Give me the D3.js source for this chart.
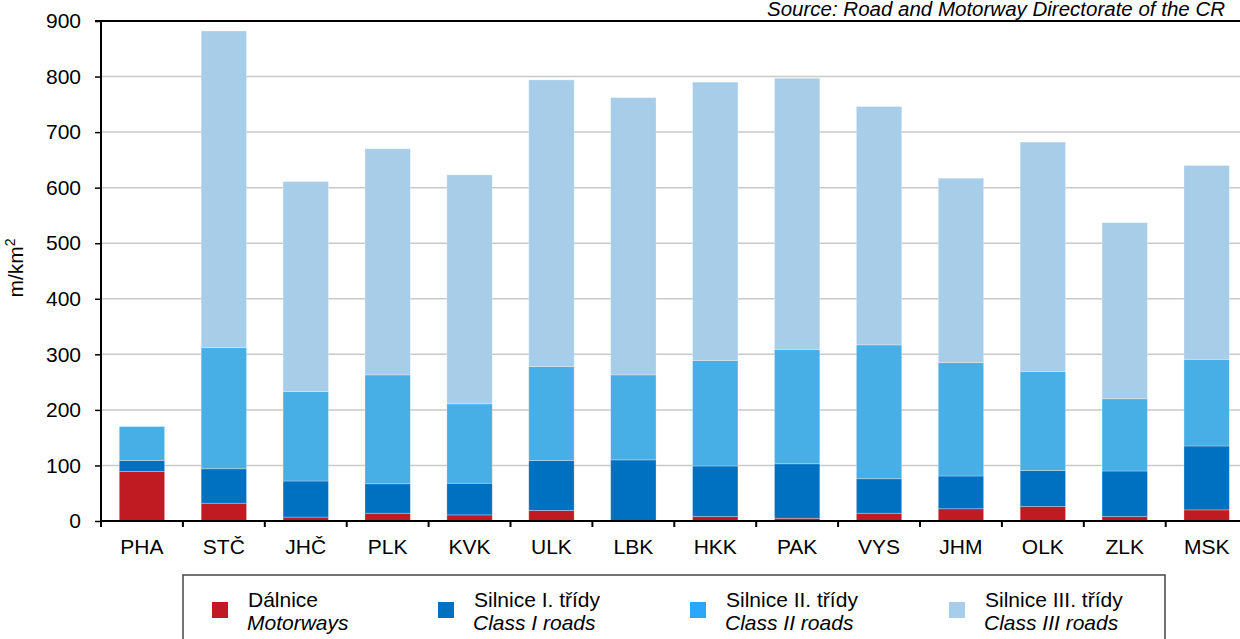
<!DOCTYPE html>
<html>
<head>
<meta charset="utf-8">
<script src="https://cdn.jsdelivr.net/npm/d3@7"></script>
<style>
  html, body { margin: 0; padding: 0; background: #fff; }
  svg { display: block; }
  text { font-family: "Liberation Sans", Arial, sans-serif; fill: #000; }
</style>
</head>
<body>
<svg id="chart" width="1240" height="639"></svg>
<script>
const categories = ["PHA","STČ","JHČ","PLK","KVK","ULK","LBK","HKK","PAK","VYS","JHM","OLK","ZLK","MSK"];
const motorways = [89, 32, 7, 14, 11, 19, 0, 8, 5, 14, 22, 26, 8, 20];
const class1Roads = [20, 62, 65, 53, 57, 90, 110, 91, 98, 62, 59, 65, 82, 115];
const class2Roads = [61, 218, 161, 196, 143, 169, 153, 190, 206, 241, 204, 178, 130, 156];
const class3Roads = [0, 570, 378, 407, 412, 516, 499, 501, 488, 429, 332, 413, 317, 349];
const yTicks = [0, 100, 200, 300, 400, 500, 600, 700, 800, 900];
const seriesKeys = ["d", "c1", "c2", "c3"];
const seriesCz = ["Dálnice", "Silnice I. třídy", "Silnice II. třídy", "Silnice III. třídy"];
const seriesEn = ["Motorways", "Class I roads", "Class II roads", "Class III roads"];
const sourceText = "Source: Road and Motorway Directorate of the CR";
const yTitle = "m/km";

const barColors = ["#c01b23", "#0070c0", "#48aee6", "#a7cde8"];
const legendColors = ["#c01b23", "#0070c0", "#2ba6f8", "#a7cde8"];

const rows = categories.map((c, i) => ({cat: c, d: motorways[i], c1: class1Roads[i], c2: class2Roads[i], c3: class3Roads[i]}));
const stacked = d3.stack().keys(seriesKeys)(rows);

const svg = d3.select("#chart");
const pLeft = 101, pRight = 1247.6, pTop = 21, pBottom = 521;
const FS = 21;

const x = d3.scaleBand().domain(categories).range([pLeft, pRight]).paddingInner(0.446).paddingOuter(0.223);
const y = d3.scaleLinear().domain([0, 900]).range([pBottom, pTop]);

// gridlines
svg.append("g").selectAll("line").data(yTicks.filter(t => t > 0 && t < 900)).join("line")
  .attr("x1", pLeft).attr("x2", 1240)
  .attr("y1", d => y(d)).attr("y2", d => y(d))
  .attr("stroke", "#c9c9c9").attr("stroke-width", 1.5);

// top border line at max
svg.append("line").attr("x1", pLeft - 6).attr("x2", 1240)
  .attr("y1", y(900)).attr("y2", y(900))
  .attr("stroke", "#000").attr("stroke-width", 2);

// bars
svg.append("g").selectAll("g").data(stacked).join("g")
  .attr("fill", (d, i) => barColors[i])
  .selectAll("rect").data(d => d).join("rect")
  .attr("x", d => x(d.data.cat))
  .attr("width", x.bandwidth())
  .attr("y", d => y(d[1]))
  .attr("height", d => Math.max(0, y(d[0]) - y(d[1])))
  .attr("stroke", "rgba(255,255,255,0.35)").attr("stroke-width", 0.8);

// y axis
const yAxis = svg.append("g").attr("transform", `translate(${pLeft},0)`)
  .call(d3.axisLeft(y).tickValues(yTicks).tickSize(6).tickPadding(14).tickFormat(d3.format("d")));
yAxis.select(".domain").attr("stroke", "#000").attr("stroke-width", 2).attr("d", `M0,${pTop}V${pBottom}`);
yAxis.selectAll(".tick line").attr("stroke", "#000").attr("stroke-width", 1.5);
yAxis.selectAll("text").attr("font-size", FS).attr("font-family", "Liberation Sans, Arial, sans-serif").attr("fill", "#000");

// x axis
const xAxis = svg.append("g").attr("transform", `translate(0,${pBottom})`)
  .call(d3.axisBottom(x).tickSize(0).tickPadding(18));
xAxis.select(".domain").attr("stroke", "#000").attr("stroke-width", 2).attr("d", `M${pLeft},0H1240`);
xAxis.selectAll("text").attr("font-size", FS).attr("font-family", "Liberation Sans, Arial, sans-serif").attr("fill", "#000");
// category boundary tick marks
const bounds = d3.range(categories.length + 1).map(i => x.range()[0] + i * x.step());
svg.append("g").selectAll("line").data(bounds.filter(b => b <= 1240)).join("line")
  .attr("x1", d => d).attr("x2", d => d)
  .attr("y1", pBottom).attr("y2", pBottom + 6)
  .attr("stroke", "#000").attr("stroke-width", 2);

// y title
const yt = svg.append("text")
  .attr("transform", "translate(23,268) rotate(-90)")
  .attr("text-anchor", "middle").attr("font-size", FS);
yt.append("tspan").text(yTitle);
yt.append("tspan").text("2").attr("font-size", 14).attr("dy", -8);

// source
svg.append("text").attr("x", 767).attr("y", 16)
  .attr("font-size", 20.5).attr("font-style", "italic").text(sourceText);

// legend
svg.append("rect").attr("x", 183).attr("y", 575).attr("width", 982).attr("height", 80)
  .attr("fill", "none").attr("stroke", "#444").attr("stroke-width", 1.5);
const legX = [212, 438, 690, 949];
const lg = svg.append("g").selectAll("g").data(seriesKeys).join("g")
  .attr("transform", (d, i) => `translate(${legX[i]},0)`);
lg.append("rect").attr("x", 0).attr("y", 602).attr("width", 16).attr("height", 16)
  .attr("fill", (d, i) => legendColors[i]);
lg.append("text").attr("x", 36).attr("y", 607).attr("font-size", FS).text((d, i) => seriesCz[i]);
lg.append("text").attr("x", 35).attr("y", 630).attr("font-size", FS).attr("font-style", "italic").text((d, i) => seriesEn[i]);
</script>
</body>
</html>
